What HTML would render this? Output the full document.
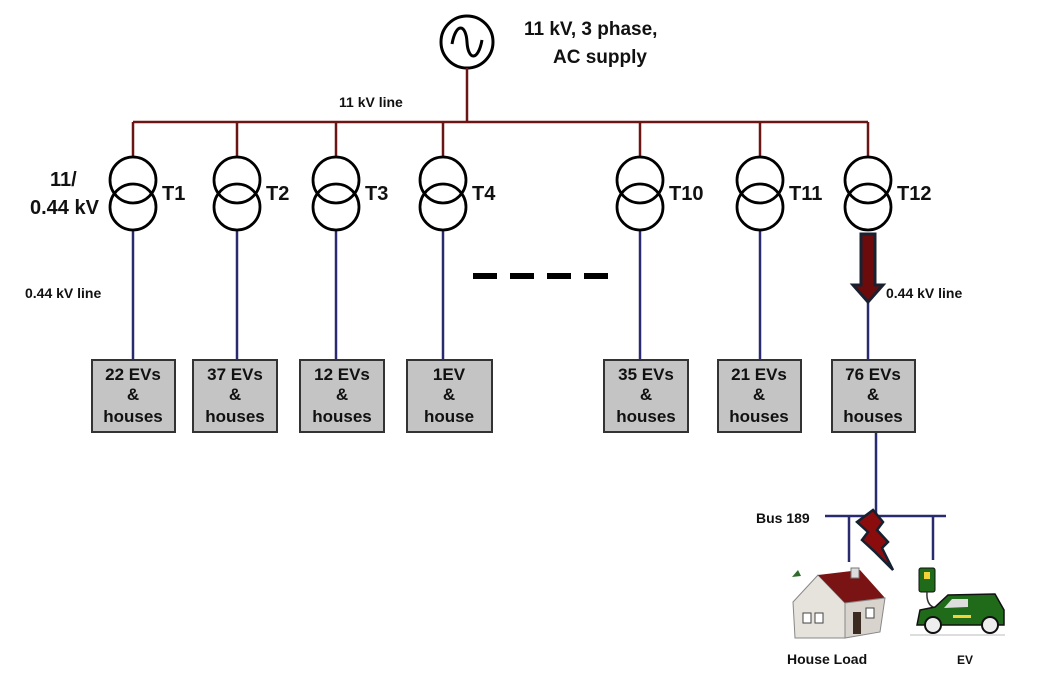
<!DOCTYPE html>
<html><head><style>
body{margin:0;background:#fff;width:1048px;height:676px;overflow:hidden}
text{font-family:"Liberation Sans",sans-serif;font-weight:bold;fill:#111}
</style></head><body>
<svg width="1048" height="676" viewBox="0 0 1048 676" xmlns="http://www.w3.org/2000/svg">
<circle cx="467" cy="42" r="26" fill="none" stroke="#000" stroke-width="3"/>
<path d="M452 44 C456 22,466 24,467 42 C468 60,478 62,482 40" fill="none" stroke="#000" stroke-width="3"/>
<text x="524" y="35" font-size="19">11 kV, 3 phase,</text>
<text x="553" y="63" font-size="19">AC supply</text>
<text x="339" y="107" font-size="14">11 kV line</text>
<g stroke="#6b1515" stroke-width="2.5" fill="none">
<path d="M467 68 V122 M133 122 H868 M133 122 V156 M237 122 V156 M336 122 V156 M443 122 V156 M640 122 V156 M760 122 V156 M868 122 V156"/>
</g>
<g stroke="#2a2a6e" stroke-width="2.5">
<path d="M133 230 V360 M237 230 V360 M336 230 V360 M443 230 V360 M640 230 V360 M760 230 V360 M868 295 V360 M876 432 V516 M825 516 H946 M849 516 V562 M933 516 V560"/>
</g>
<g fill="none" stroke="#000" stroke-width="2.8">
<circle cx="133" cy="180" r="23"/><circle cx="133" cy="207" r="23"/>
<circle cx="237" cy="180" r="23"/><circle cx="237" cy="207" r="23"/>
<circle cx="336" cy="180" r="23"/><circle cx="336" cy="207" r="23"/>
<circle cx="443" cy="180" r="23"/><circle cx="443" cy="207" r="23"/>
<circle cx="640" cy="180" r="23"/><circle cx="640" cy="207" r="23"/>
<circle cx="760" cy="180" r="23"/><circle cx="760" cy="207" r="23"/>
<circle cx="868" cy="180" r="23"/><circle cx="868" cy="207" r="23"/>
</g>
<g font-size="20">
<text x="162" y="200">T1</text><text x="266" y="200">T2</text><text x="365" y="200">T3</text><text x="472" y="200">T4</text>
<text x="669" y="200">T10</text><text x="789" y="200">T11</text><text x="897" y="200">T12</text>
<text x="50" y="186">11/</text><text x="30" y="214">0.44 kV</text>
</g>
<text x="25" y="298" font-size="14">0.44 kV line</text>
<text x="886" y="298" font-size="14">0.44 kV line</text>
<g stroke="#000" stroke-width="6"><path d="M473 276 H497 M510 276 H534 M547 276 H571 M584 276 H608"/></g>
<path d="M861 234 H875 V285 H883 L868 302 L853 285 H861 Z" fill="#6b0b0b" stroke="#1a2030" stroke-width="3"/>
<g fill="#c4c4c4" stroke="#333" stroke-width="2">
<rect x="92" y="360" width="83" height="72"/><rect x="193" y="360" width="84" height="72"/>
<rect x="300" y="360" width="84" height="72"/><rect x="407" y="360" width="85" height="72"/>
<rect x="604" y="360" width="84" height="72"/><rect x="718" y="360" width="83" height="72"/>
<rect x="832" y="360" width="83" height="72"/>
</g>
<g font-size="17" text-anchor="middle">
<text x="133" y="380">22 EVs</text><text x="133" y="400">&amp;</text><text x="133" y="422">houses</text>
<text x="235" y="380">37 EVs</text><text x="235" y="400">&amp;</text><text x="235" y="422">houses</text>
<text x="342" y="380">12 EVs</text><text x="342" y="400">&amp;</text><text x="342" y="422">houses</text>
<text x="449" y="380">1EV</text><text x="449" y="400">&amp;</text><text x="449" y="422">house</text>
<text x="646" y="380">35 EVs</text><text x="646" y="400">&amp;</text><text x="646" y="422">houses</text>
<text x="759" y="380">21 EVs</text><text x="759" y="400">&amp;</text><text x="759" y="422">houses</text>
<text x="873" y="380">76 EVs</text><text x="873" y="400">&amp;</text><text x="873" y="422">houses</text>
</g>
<text x="756" y="523" font-size="14">Bus 189</text>
<path d="M873 510 L857 522 L868 532 L862 540 L875 552 L893 570 L882 548 L888 542 L877 530 L883 522 Z" fill="#8b0c0c" stroke="#152030" stroke-width="2.5"/>
<path d="M792 577 L798 570 L801 576 Z" fill="#2f6b2a"/>
<polygon points="793,602 818,575 845,603 845,638 795,638" fill="#e6e2dc" stroke="#888"/>
<polygon points="818,575 860,570 885,598 845,603" fill="#7a1414"/>
<polygon points="845,603 885,598 880,632 845,638" fill="#d8d3cc" stroke="#888"/>
<rect x="851" y="568" width="8" height="10" fill="#ddd" stroke="#777"/>
<rect x="803" y="613" width="8" height="10" fill="#fff" stroke="#444"/><rect x="815" y="613" width="8" height="10" fill="#fff" stroke="#444"/>
<rect x="853" y="612" width="8" height="22" fill="#3a2a20"/><rect x="866" y="608" width="8" height="10" fill="#fff" stroke="#444"/>
<rect x="919" y="568" width="16" height="24" rx="2" fill="#1f6b1a" stroke="#111"/>
<rect x="924" y="572" width="6" height="7" fill="#f3d23a"/>
<path d="M927 592 Q926 605 935 608" fill="none" stroke="#333" stroke-width="1.5"/>
<path d="M917 625 L920 610 L935 607 L948 595 L995 594 L1004 610 L1004 625 Z" fill="#1f6b1a" stroke="#111" stroke-width="1.5"/>
<path d="M952 599 L968 599 L968 607 L944 608 Z" fill="#ddd"/>
<rect x="953" y="615" width="18" height="3" fill="#f3d23a"/>
<circle cx="933" cy="625" r="8" fill="#eee" stroke="#111" stroke-width="2"/>
<circle cx="990" cy="625" r="8" fill="#eee" stroke="#111" stroke-width="2"/>
<line x1="910" y1="635" x2="1005" y2="635" stroke="#bbb"/>
<text x="787" y="664" font-size="14">House Load</text>
<text x="957" y="664" font-size="12">EV</text>
</svg>
</body></html>
